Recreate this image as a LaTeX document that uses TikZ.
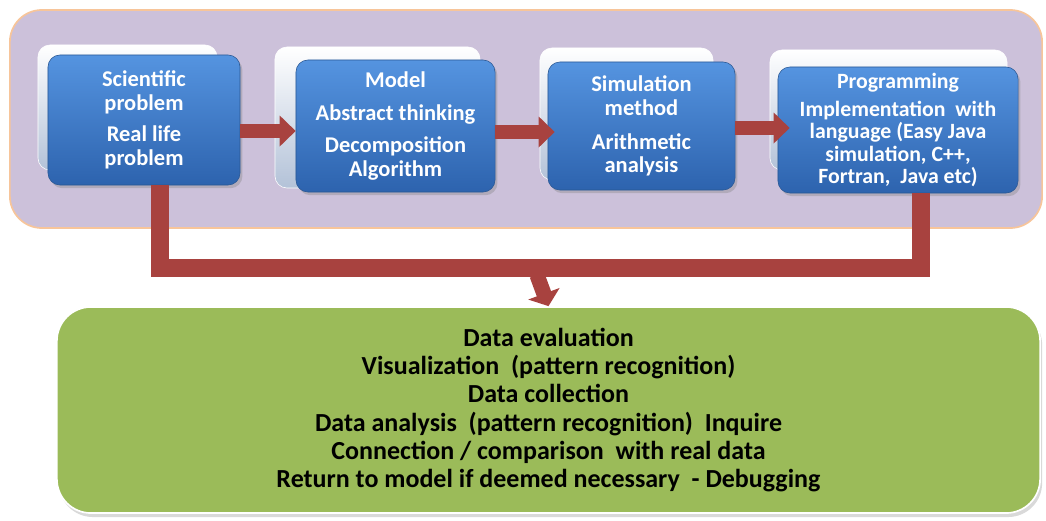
\documentclass[tikz,border=0pt]{standalone}
\usepackage{fontspec}
\setmainfont{Carlito}
\usetikzlibrary{arrows.meta,calc,shadows}

\definecolor{panelfill}{HTML}{CCC1DA}
\definecolor{paneledge}{HTML}{F7C59A}
\definecolor{bluetop}{HTML}{5594E0}
\definecolor{bluebot}{HTML}{2D63AE}
\definecolor{blueedge}{HTML}{2A5894}
\definecolor{backbot}{HTML}{B3C2D8}
\definecolor{arrowred}{HTML}{A8423F}
\definecolor{evalfill}{HTML}{9BBB59}

\begin{document}
\begin{tikzpicture}[
		x=0.025cm, y=-0.025cm,
		front/.style={draw=blueedge, rounded corners=0.3cm, top color=bluetop,
			bottom color=bluebot, text=white, align=center,
			font=\fontsize{16}{17}\selectfont\bfseries,
			drop shadow={opacity=0.35, shadow xshift=0.06cm, shadow yshift=-0.08cm}},
		back/.style={draw=white, rounded corners=0.3cm, top color=white,
			bottom color=backbot},
		flow/.style={draw=arrowred, line width=0.33cm,
			-{Triangle[width=0.75cm, length=0.4cm]}},
		bar/.style={draw=arrowred, line width=0.45cm},
		drop/.style={draw=arrowred, line width=0.38cm,
			-{Triangle[width=0.82cm, length=0.33cm]}},
		evalbox/.style={draw=white, line width=1.2pt, rounded corners=0.85cm,
			fill=evalfill, align=center,
			font=\fontsize{18.5}{20}\selectfont\bfseries,
			drop shadow={opacity=0.3, shadow xshift=0.05cm, shadow yshift=-0.1cm}}
		]
		\useasboundingbox (0,0) rectangle (1046,520);
		
		% background panel
		\node[draw=paneledge, line width=1.2pt, fill=panelfill, rounded corners=0.8cm,
			minimum width=25.8cm, minimum height=5.45cm] (panel) at (526,119) {};
		
		% stacked boxes
		\node[back, minimum width=4.475cm, minimum height=3.125cm] (b1back) at (127.5,107.5) {};
		\node[front, minimum width=4.8cm, minimum height=3.25cm] (b1) at (144,120)
			{Scientific\\problem\\[5pt]Real life\\problem};
		
		\node[back, minimum width=5.125cm, minimum height=3.525cm] (b2back) at (377.5,117.5) {};
		\node[front, minimum width=4.975cm, minimum height=3.3cm] (b2) at (395.5,126)
			{Model\\[6pt]Abstract thinking\\[6pt]Decomposition\\Algorithm};
		
		\node[back, minimum width=4.325cm, minimum height=3.3cm] (b3back) at (626.5,114) {};
		\node[front, minimum width=4.675cm, minimum height=3.2cm] (b3) at (641.5,126)
			{Simulation\\method\\[7pt]Arithmetic\\analysis};
		
		\node[back, minimum width=5.925cm, minimum height=3.0cm] (b4back) at (888.5,110) {};
		\node[front, minimum width=6.0cm, minimum height=3.15cm,
			font=\fontsize{15.5}{16}\selectfont\bfseries] (b4) at (898,130)
			{Programming\\[4pt]Implementation~ with\\language (Easy Java\\simulation, C++,\\Fortran,~ Java etc)};
		
		% result box
		\node[evalbox, minimum width=24.575cm, minimum height=5.15cm] (eval) at (548.5,410)
			{Data evaluation\\
			Visualization~ (pattern recognition)\\
			Data collection\\
			Data analysis~ (pattern recognition)~ Inquire\\
			Connection / comparison~ with real data\\
			Return to model if deemed necessary~ - Debugging};
		
		% arrows between the steps
		\draw[flow] ($(b1.east)+(0,11)$) -- ($(b2.west)+(0,5)$);
		\draw[flow] ($(b2.east)+(0,6)$) -- ($(b3.west)+(7,6)$);
		\draw[flow] ($(b3.east)+(0,2)$) -- ($(b4.west)+(12,-2)$);
		
		% joining the outputs
		\coordinate (join) at (537,268);
		\draw[bar] ($(b1.south)+(16,0)$) |- (join) -| ($(b4.south)+(23,0)$);
		\draw[drop] ($(join)+(0,7)$) -- (eval.north);
		
	\end{tikzpicture}
\end{document}
